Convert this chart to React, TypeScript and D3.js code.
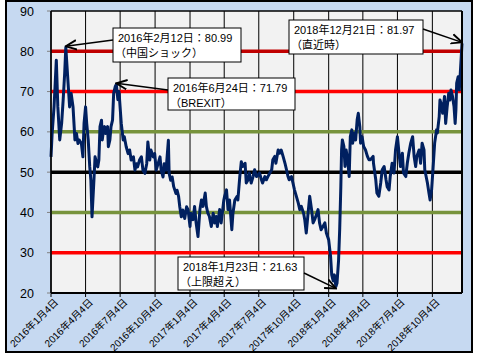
import React from 'react';
import * as d3 from 'd3';

// daily-ish readings of the index
const dates = [
  '2016-01-04', '2016-01-07', '2016-01-12', '2016-01-15', '2016-01-18', '2016-01-22', '2016-01-27', '2016-02-01',
  '2016-02-05', '2016-02-09', '2016-02-12', '2016-02-18', '2016-02-22', '2016-02-26', '2016-03-02', '2016-03-07',
  '2016-03-11', '2016-03-15', '2016-03-18', '2016-03-24', '2016-03-28', '2016-03-31', '2016-04-04', '2016-04-07',
  '2016-04-11', '2016-04-15', '2016-04-18', '2016-04-21', '2016-04-26', '2016-04-29', '2016-05-06', '2016-05-09',
  '2016-05-12', '2016-05-16', '2016-05-18', '2016-05-20', '2016-05-24', '2016-05-27', '2016-06-01', '2016-06-03',
  '2016-06-07', '2016-06-10', '2016-06-14', '2016-06-17', '2016-06-21', '2016-06-24', '2016-06-28', '2016-07-01',
  '2016-07-07', '2016-07-12', '2016-07-15', '2016-07-20', '2016-07-25', '2016-07-29', '2016-08-02', '2016-08-08',
  '2016-08-12', '2016-08-16', '2016-08-19', '2016-08-24', '2016-08-29', '2016-09-02', '2016-09-07', '2016-09-12',
  '2016-09-15', '2016-09-20', '2016-09-23', '2016-09-29', '2016-10-03', '2016-10-07', '2016-10-12', '2016-10-17',
  '2016-10-20', '2016-10-25', '2016-10-28', '2016-11-02', '2016-11-08', '2016-11-10', '2016-11-14', '2016-11-18',
  '2016-11-22', '2016-11-28', '2016-12-01', '2016-12-05', '2016-12-08', '2016-12-12', '2016-12-16', '2016-12-21',
  '2016-12-26', '2016-12-30',
  '2017-01-04', '2017-01-06', '2017-01-12', '2017-01-16', '2017-01-20', '2017-01-25', '2017-01-30', '2017-02-03',
  '2017-02-07', '2017-02-13', '2017-02-16', '2017-02-20', '2017-02-24', '2017-03-01', '2017-03-06', '2017-03-10',
  '2017-03-14', '2017-03-17', '2017-03-23', '2017-03-27', '2017-04-03', '2017-04-05', '2017-04-10', '2017-04-14',
  '2017-04-18', '2017-04-24', '2017-04-27', '2017-05-02', '2017-05-08', '2017-05-10', '2017-05-15', '2017-05-19',
  '2017-05-23', '2017-05-29', '2017-06-01', '2017-06-06', '2017-06-09', '2017-06-14', '2017-06-19', '2017-06-23',
  '2017-06-28', '2017-07-03', '2017-07-06', '2017-07-11', '2017-07-14', '2017-07-20', '2017-07-24', '2017-07-28',
  '2017-08-02', '2017-08-07', '2017-08-10', '2017-08-15', '2017-08-18', '2017-08-24', '2017-08-28', '2017-09-01',
  '2017-09-06', '2017-09-11', '2017-09-15', '2017-09-19', '2017-09-22', '2017-09-28', '2017-10-02', '2017-10-06',
  '2017-10-11', '2017-10-16', '2017-10-20', '2017-10-24', '2017-10-30', '2017-11-02', '2017-11-06', '2017-11-10',
  '2017-11-15', '2017-11-20', '2017-11-24', '2017-11-28', '2017-12-04', '2017-12-07', '2017-12-11', '2017-12-15',
  '2017-12-20', '2017-12-25', '2017-12-29',
  '2018-01-04', '2018-01-09', '2018-01-12', '2018-01-16', '2018-01-19', '2018-01-23', '2018-01-26', '2018-01-30',
  '2018-02-02', '2018-02-05', '2018-02-07', '2018-02-09', '2018-02-13', '2018-02-16', '2018-02-19', '2018-02-23',
  '2018-02-27', '2018-03-02', '2018-03-06', '2018-03-08', '2018-03-13', '2018-03-16', '2018-03-20', '2018-03-23',
  '2018-03-27', '2018-03-29', '2018-04-02', '2018-04-06', '2018-04-11', '2018-04-16', '2018-04-20', '2018-04-24',
  '2018-05-01', '2018-05-02', '2018-05-08', '2018-05-11', '2018-05-16', '2018-05-21', '2018-05-25', '2018-05-30',
  '2018-06-04', '2018-06-07', '2018-06-12', '2018-06-15', '2018-06-20', '2018-06-25', '2018-06-29', '2018-07-04',
  '2018-07-09', '2018-07-12', '2018-07-17', '2018-07-20', '2018-07-26', '2018-07-30', '2018-08-03', '2018-08-08',
  '2018-08-13', '2018-08-17', '2018-08-21', '2018-08-24', '2018-08-30', '2018-09-03', '2018-09-07', '2018-09-12',
  '2018-09-14', '2018-09-21', '2018-09-25', '2018-09-28', '2018-10-02', '2018-10-05', '2018-10-10', '2018-10-15',
  '2018-10-17', '2018-10-22', '2018-10-24', '2018-10-29', '2018-10-31', '2018-11-05', '2018-11-08', '2018-11-12',
  '2018-11-16', '2018-11-19', '2018-11-22', '2018-11-26', '2018-11-30', '2018-12-03', '2018-12-05', '2018-12-07',
  '2018-12-11', '2018-12-14', '2018-12-18', '2018-12-21',
];

const values = [
  53.8, 59.6, 66.2, 72, 77.8, 66.2, 58, 62.1,
  67.9, 74.5, 80.99, 72, 66.2, 69.6, 66.2, 58,
  59.6, 57.1, 58, 57.1, 53.8, 62.1, 66.2, 62.1,
  58, 51.3, 48, 38.9, 48, 53.8, 51.3, 53,
  61.3, 62.9, 58, 59.6, 61.3, 59.6, 61.3, 56.3,
  58, 61.3, 62.9, 69.6, 71.2, 71.79, 68, 70,
  62.1, 58, 58.8, 56.3, 54.6, 55.5, 53, 53.8,
  50.5, 52.1, 51.3, 53, 53.8, 50.5, 49.7, 52.1,
  57.5, 53, 55.5, 53.8, 54.6, 50.5, 52.1, 53.8,
  50.5, 48.8, 52.1, 50.5, 57.9, 49.7, 48, 48.8,
  46.4, 44.7, 45.5, 43.9, 41.4, 38.9, 40.6, 38.5,
  41.4, 40.6,
  36.5, 39.8, 38.2, 41.5, 37.4, 34, 40.7, 43.1,
  41.5, 44.8, 41.5, 39.8, 39, 36.5, 39.8, 37.4,
  39, 36.5, 40.7, 37.4, 43.1, 44, 45.6, 40.7,
  43.1, 35.7, 39.8, 43.1, 44, 43.1, 48.9, 52.6,
  51.4, 52.2, 47.3, 48.1, 49.8, 47.3, 48.9, 50.6,
  48.9, 49.3, 49.8, 48.1, 47.3, 48.9, 48.1, 48.9,
  49.8, 50.6, 53.1, 53.9, 52.2, 55.5, 54.7, 55.5,
  53.9, 52.2, 50.6, 48.9, 48.1, 48.9, 47.3, 45.6,
  44, 42.3, 40.7, 41.5, 39.8, 38.2, 34.9, 39,
  44, 40.7, 37.4, 38.2, 39.8, 40.7, 37.4, 35.7,
  36.5, 37.4, 34.9,
  33.2, 29.1, 24.5, 23, 24.5, 21.63, 22.5, 28,
  35.8, 46.4, 55.5, 58, 56.4, 51.4, 55.5, 53.1,
  48.9, 58.8, 60.5, 57.2, 59.7, 58, 63, 64.6,
  61.3, 57.2, 58.8, 56.4, 55.5, 53.9, 53.1, 53.1,
  53.9, 52.2, 48.1, 44.8, 44, 47.3, 50.6, 51.4,
  48.1, 46.4, 45.6, 48.9, 52.2, 49.8, 55.5, 58.8,
  53.9, 51.4, 54.7, 49.8, 48.9, 52.2, 54.7, 57.2,
  58.8, 53.9, 51.4, 53.9, 55.5, 52.2, 57.2, 55.5,
  50.6, 47.3, 44.8, 43.1, 45.6, 49.8, 57.2, 60.5,
  59.7, 63.8, 67.9, 66.3, 64.6, 68.8, 62.1, 66.3,
  69.6, 67.9, 70.4, 68.8, 66.3, 62.1, 65.5, 72.1,
  73.7, 70.4, 77, 81.97,
];

const yTicks = [20, 30, 40, 50, 60, 70, 80, 90];
const xTickDates = [
  '2016-01-04', '2016-04-04', '2016-07-04', '2016-10-04', '2017-01-04', '2017-04-04',
  '2017-07-04', '2017-10-04', '2018-01-04', '2018-04-04', '2018-07-04', '2018-10-04',
];
const refLevels = [80, 70, 60, 50, 40, 30];

const noteDates = ['2016-02-12', '2016-06-24', '2018-12-21', '2018-01-23'];
const noteValues = [80.99, 71.79, 81.97, 21.63];
const noteTitles = ['2016年2月12日：80.99', '2016年6月24日：71.79', '2018年12月21日：81.97', '2018年1月23日：21.63'];
const noteSubs = ['（中国ショック）', '（BREXIT）', '（直近時）', '（上限超え）'];

// styles / layout
const W = 480;
const H = 360;
const plot = { left: 51, right: 462, top: 11, bottom: 293 };
const refColor: Record<number, string> = {
  80: '#c00000', 70: '#ff0000', 60: '#77933c', 50: '#000000', 40: '#77933c', 30: '#ff0000',
};
const boxes = [
  { x: 113, y: 28, w: 128, h: 34, ax: 113, ay: 40 },
  { x: 168, y: 78, w: 127, h: 32, ax: 168, ay: 90 },
  { x: 289, y: 20, w: 134, h: 34, ax: 423, ay: 29 },
  { x: 178, y: 257, w: 126, h: 33, ax: 304, ay: 273 },
];
const font = "'Liberation Sans', 'Noto Sans CJK JP', sans-serif";

const parse = d3.timeParse('%Y-%m-%d');

const App = () => {
  const x = d3.scaleTime()
    .domain([parse('2016-01-04') as Date, parse('2018-12-21') as Date])
    .range([plot.left, plot.right]);
  const y = d3.scaleLinear().domain([20, 90]).range([plot.bottom, plot.top]);

  const pts = dates.map((d, i) => [parse(d) as Date, values[i]] as [Date, number]);
  const path = d3.line<[Date, number]>()
    .x(d => x(d[0]))
    .y(d => y(d[1]))(pts);

  const fmt = (s: string) => {
    const d = parse(s) as Date;
    return `${d.getFullYear()}年${d.getMonth() + 1}月${d.getDate()}日`;
  };

  return (
    <svg width={W} height={H} style={{ position: 'absolute', left: 0, top: 0 }}>
      <defs>
        <marker id="arr" viewBox="0 0 10 10" refX="9" refY="5" markerWidth="8" markerHeight="8" orient="auto">
          <path d="M0,1 L9,5 L0,9" fill="none" stroke="#000" strokeWidth="1.6" />
        </marker>
      </defs>
      <rect x={0} y={0} width={W} height={H} fill="#fff" />
      <rect x={6} y={1} width={466} height={351} fill="#c6d9f1" stroke="#000" strokeWidth={2} />
      <rect x={plot.left} y={plot.top} width={plot.right - plot.left} height={plot.bottom - plot.top} fill="#f2f2f2" />

      {xTickDates.map(t => (
        <g key={t}>
          <line x1={x(parse(t) as Date)} x2={x(parse(t) as Date)} y1={plot.top} y2={plot.bottom + 4} stroke="#000" strokeWidth={1} />
          <text
            transform={`translate(${x(parse(t) as Date) + 3},${plot.bottom + 5}) rotate(-45)`}
            textAnchor="end"
            dy="0.7em"
            fontSize={10}
            fontFamily={font}
            fill="#000"
          >
            {fmt(t)}
          </text>
        </g>
      ))}

      {yTicks.map(t => (
        <g key={t}>
          <line x1={plot.left - 4} x2={plot.left} y1={y(t)} y2={y(t)} stroke="#808080" strokeWidth={1} />
          <text x={34} y={y(t)} dy="0.36em" textAnchor="end" fontSize={12.5} fontFamily={font} fill="#000">{t}</text>
        </g>
      ))}

      {refLevels.map(l => (
        <line key={l} x1={plot.left} x2={plot.right} y1={y(l)} y2={y(l)} stroke={refColor[l]} strokeWidth={3.5} />
      ))}

      <path d={path || ''} fill="none" stroke="#002060" strokeWidth={3} strokeLinejoin="round" />

      <line x1={plot.left} x2={plot.right} y1={plot.top} y2={plot.top} stroke="#000" strokeWidth={1.5} />
      <line x1={plot.right} x2={plot.right} y1={plot.top} y2={plot.bottom} stroke="#000" strokeWidth={2} />
      <line x1={plot.left} x2={plot.left} y1={plot.top} y2={plot.bottom} stroke="#000" strokeWidth={1.5} />
      <line x1={plot.left} x2={plot.right} y1={plot.bottom} y2={plot.bottom} stroke="#000" strokeWidth={2} />

      {noteDates.map((d, i) => {
        const b = boxes[i];
        return (
          <g key={d}>
            <rect x={b.x} y={b.y} width={b.w} height={b.h} fill="#fff" stroke="#000" strokeWidth={1} />
            <text x={b.x + 5} y={b.y + 14} fontSize={11} fontFamily={font} fill="#000">{noteTitles[i]}</text>
            <text x={b.x + 2} y={b.y + 29} fontSize={11} fontFamily={font} fill="#000">{noteSubs[i]}</text>
            <line
              x1={b.ax}
              y1={b.ay}
              x2={x(parse(d) as Date)}
              y2={y(noteValues[i]) - (noteValues[i] > 50 ? 1 : -2)}
              stroke="#000"
              strokeWidth={1.5}
              markerEnd="url(#arr)"
            />
          </g>
        );
      })}
    </svg>
  );
};

export default App;
